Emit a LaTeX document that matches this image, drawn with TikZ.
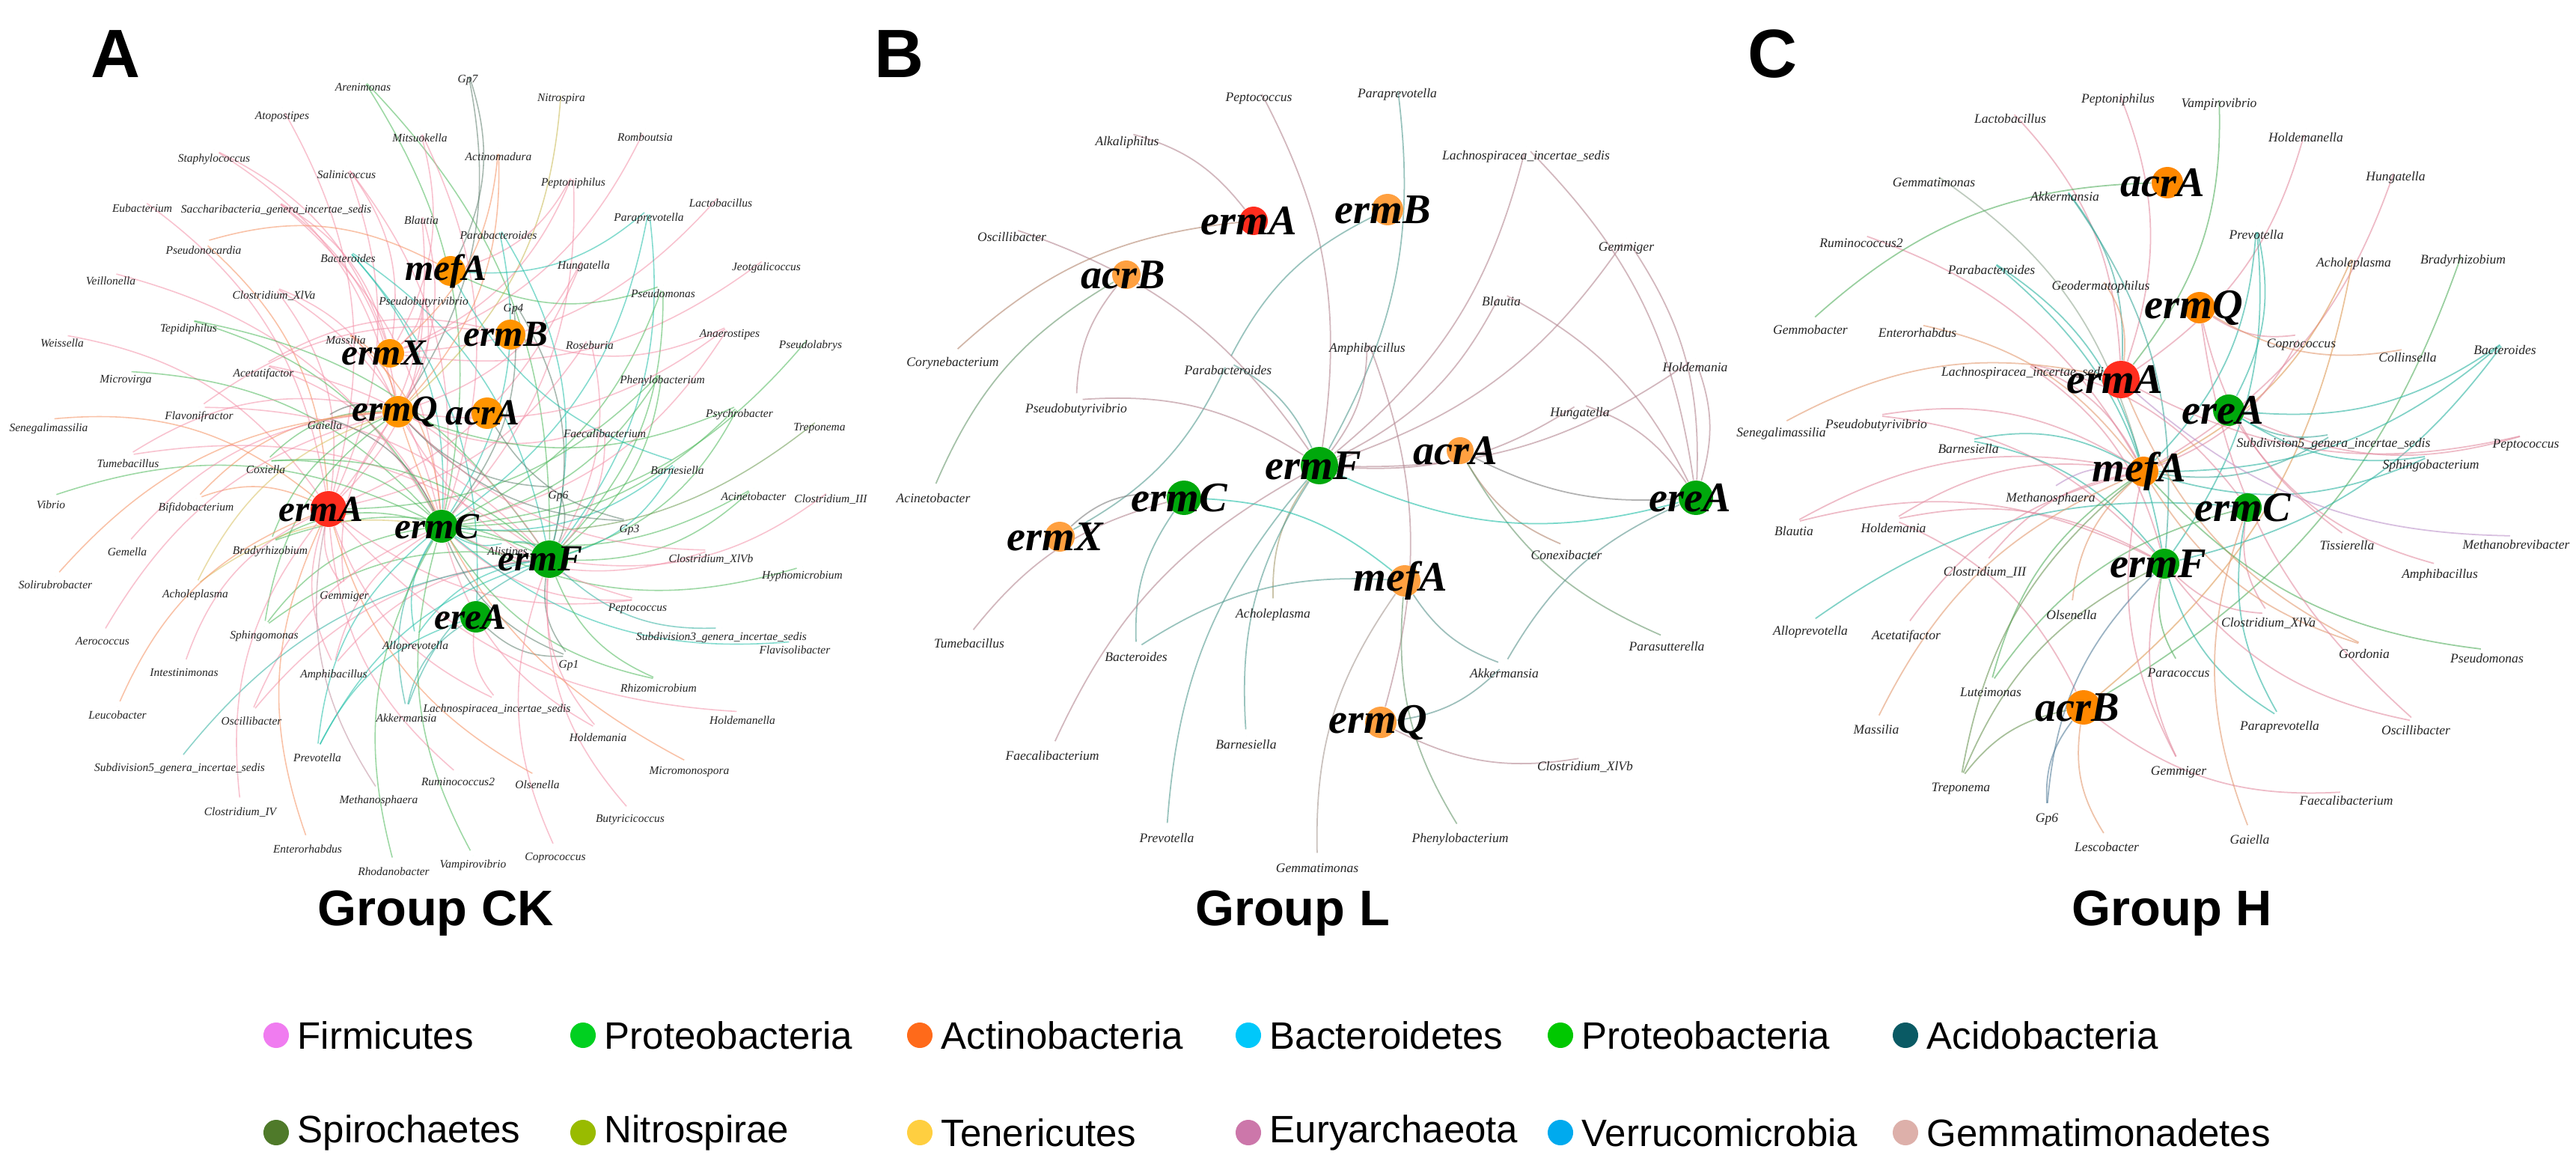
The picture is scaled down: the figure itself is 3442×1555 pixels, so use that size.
\documentclass[tikz,border=0pt]{standalone}
\usepackage{fontspec}
\setmainfont{Liberation Serif}
\newfontfamily\sansf{Liberation Sans}
\definecolor{fi}{HTML}{F07CF0}
\definecolor{pg}{HTML}{00D020}
\definecolor{ac}{HTML}{FF6A1A}
\definecolor{la}{HTML}{FFA060}
\definecolor{or}{HTML}{FF8800}
\definecolor{ba}{HTML}{00C8FA}
\definecolor{ve}{HTML}{0AA0F0}
\definecolor{ad}{HTML}{0A5A64}
\definecolor{adn}{HTML}{1A4A90}
\definecolor{sp}{HTML}{4F7A2A}
\definecolor{ni}{HTML}{99BB00}
\definecolor{te}{HTML}{FFCF40}
\definecolor{eu}{HTML}{CC77AA}
\definecolor{pu}{HTML}{B45AF0}
\definecolor{gm}{HTML}{DDB0AA}
\definecolor{gy}{HTML}{BBBBBB}
\definecolor{bk}{HTML}{000000}
\definecolor{fiE}{HTML}{F490A8}
\definecolor{pgE}{HTML}{4DB85A}
\definecolor{acE}{HTML}{F59060}
\definecolor{laE}{HTML}{F5A070}
\definecolor{orE}{HTML}{F0A050}
\definecolor{baE}{HTML}{20BFA8}
\definecolor{veE}{HTML}{30B0A0}
\definecolor{adE}{HTML}{5F7F6F}
\definecolor{adnE}{HTML}{5080A0}
\definecolor{spE}{HTML}{6A9A50}
\definecolor{niE}{HTML}{C8B850}
\definecolor{teE}{HTML}{D8C060}
\definecolor{euE}{HTML}{C090A0}
\definecolor{puE}{HTML}{C898D8}
\definecolor{gmE}{HTML}{D8B8A8}
\definecolor{gyE}{HTML}{98B098}
\definecolor{bkE}{HTML}{606860}
\definecolor{hubO}{HTML}{FF9400}
\definecolor{hubL}{HTML}{FFA040}
\definecolor{hubR}{HTML}{FF2D1E}
\definecolor{hubG}{HTML}{00A80C}
\definecolor{ver}{HTML}{00AAEE}
\definecolor{pg2}{HTML}{00C800}
\def\nn{x}
% #1 panel, #2 hubs, #3 taxa, #4 dot size, #5 edge colour percentage (rest gray)
\newcommand\panelBase[5]{%
  \foreach \id/\x/\y/\c/\r/\dx in #2
    {\node[dot,minimum size=2*\r*0.01cm] (#1-\id) at (\x,\y) {};}
  \foreach \id/\x/\y/\c/\ha/\hb/\hc in #3
    {\node[dot,minimum size=#4 cm] (#1-\id) at (\x,\y) {};}
  \foreach \id/\x/\y/\c/\ha/\hb/\hc in #3{
    \foreach \k in {\ha,\hb,\hc}{\edef\tmp{\k}\ifx\tmp\nn\else
      \draw[edge#1,draw=\c E!#5!gray] (#1-\id) to (#1-\tmp);\fi}}}
\newcommand\panelTop[4]{%
  \foreach \id/\x/\y/\c/\ha/\hb/\hc in #3{
    \fill[\c] (#1-\id.center) circle (#4/2 cm);
    \node[lbl#1] (#1-\id-t) at (\x,\y+5) {\id};}
  \foreach \id/\x/\y/\c/\r/\dx in #2{
    \fill[\c] (#1-\id.center) circle (\r*0.01cm);
    \node[hubtxt#1] (#1-\id-t) at ([xshift=\dx*0.01cm]#1-\id.center) {\id};}}
\begin{document}
\catcode`\_=12
\def\hubsA{mefA/602/362/hubO/20/-6,ermX/521/472/hubO/19/-8,ermB/682/447/hubO/20/-6,ermQ/532/550/hubO/21/-4,acrA/651/552/hubO/21/-6,ermA/439/680/hubR/24/-10,ermC/590/703/hubG/22/-6,ermF/734/747/hubG/25/-12,ereA/636/824/hubG/21/-8}
\def\taxA{Arenimonas/485/106/pg/ermC/ermF/x,
Atopostipes/377/144/fi/ermA/x/x,
Staphylococcus/286/200/fi/ermX/ermQ/x,
Salinicoccus/463/222/fi/ermX/ermA/ermC,
Eubacterium/190/267/fi/ermA/x/x,
Saccharibacteria_genera_incertae_sedis/369/268/fi/ermX/ermQ/ermC,
Pseudonocardia/272/323/ac/mefA/ermA/x,
Bacteroides/465/334/ba/ermC/ermF/ereA,
Veillonella/148/364/fi/ermC/x/x,
Clostridium_XlVa/366/383/fi/ermQ/ermC/ermA,
Tepidiphilus/252/427/pg/ermC/ermF/x,
Massilia/462/443/ac/ermQ/ermC/x,
Weissella/83/447/fi/ermA/x/x,
Acetatifactor/352/487/fi/ermC/ermF/ermB,
Microvirga/168/496/pg/ermC/x/x,
Gp7/625/95/ad/mefA/ermQ/x,
Nitrospira/750/120/ni/ermQ/x/x,
Mitsuokella/561/173/fi/ermX/ermC/x,
Romboutsia/862/172/fi/ermX/x/x,
Actinomadura/666/198/ac/ermQ/ermX/x,
Peptoniphilus/766/232/fi/ermX/mefA/ermC,
Lactobacillus/963/260/fi/ermX/x/x,
Blautia/563/283/fi/ermQ/ermA/x,
Paraprevotella/867/279/ba/ermC/ermF/mefA,
Parabacteroides/666/303/ba/ermC/ermF/x,
Hungatella/780/343/fi/ermQ/ermA/x,
Jeotgalicoccus/1024/345/fi/ermX/x/x,
Pseudomonas/886/381/pg/ermC/ermF/mefA,
Pseudobutyrivibrio/566/391/fi/ermQ/ermA/ermX,
Gp4/686/401/ad/ermC/ermF/x,
Anaerostipes/975/435/fi/ermQ/ermB/ermC,
Roseburia/788/450/fi/ermA/ermF/x,
Pseudolabrys/1083/449/pg/ermC/x/x,
Phenylobacterium/885/496/pg/ermC/ermF/ermA,
Flavonifractor/266/544/fi/ermF/ermB/x,
Gaiella/434/557/bk/ermQ/ermC/x,
Senegalimassilia/65/560/ac/ermA/x/x,
Tumebacillus/171/608/fi/ermQ/ermF/x,
Coxiella/355/616/pg/ermQ/ermC/ermF,
Vibrio/68/663/pg/ermC/x/x,
Bifidobacterium/262/666/ac/ermQ/ermA/x,
Gemella/170/726/fi/ermQ/x/x,
Bradyrhizobium/361/724/pg/ermC/ermF/ermQ,
Solirubrobacter/74/770/ac/ermQ/x/x,
Acholeplasma/261/782/te/ermQ/ermC/x,
Gemmiger/460/785/fi/ermA/ermQ/x,
Sphingomonas/353/837/pg/ermC/ermF/ermQ,
Aerococcus/137/846/fi/ermQ/x/x,
Alloprevotella/555/851/ba/ermC/ermF/x,
Intestinimonas/246/888/fi/ermA/x/x,
Amphibacillus/446/889/fi/ermA/ermC/ermF,
Leucobacter/157/944/ac/ermA/x/x,
Oscillibacter/336/952/fi/ermC/ermF/x,
Akkermansia/543/948/ve/ermC/ermF/ereA,
Faecalibacterium/808/568/fi/ermQ/ermF/x,
Psychrobacter/988/541/pg/ermC/ermF/ermQ,
Treponema/1095/560/sp/ermC/x/x,
Barnesiella/905/617/ba/ermC/ermF/mefA,
Gp6/746/651/ad/ermQ/ermF/x,
Acinetobacter/1007/652/pg/ermC/ermF/x,
Clostridium_III/1110/655/fi/ermF/x/x,
Gp3/841/696/ad/ermQ/acrA/x,
Alistipes/678/725/ba/ermC/ermF/x,
Clostridium_XlVb/950/735/fi/ermQ/ermC/x,
Hyphomicrobium/1072/757/pg/ermC/x/x,
Peptococcus/852/801/fi/ermQ/ermC/ermA,
Subdivision3_genera_incertae_sedis/964/839/ve/ermF/x/x,
Flavisolibacter/1062/857/ba/ermC/x/x,
Gp1/760/877/ad/ermC/ermF/ereA,
Rhizomicrobium/880/908/pg/ermC/ermF/x,
Lachnospiracea_incertae_sedis/664/935/fi/ermA/ereA/x,
Holdemanella/992/951/fi/ermA/x/x,
Holdemania/799/974/fi/ermF/ermC/x,
Prevotella/424/1001/ba/ermC/ermF/ereA,
Subdivision5_genera_incertae_sedis/240/1014/ve/ermF/x/x,
Micromonospora/921/1019/ac/ermQ/x/x,
Ruminococcus2/612/1034/fi/ermA/x/x,
Olsenella/718/1037/ac/ermA/x/x,
Methanosphaera/506/1057/eu/ermA/x/x,
Clostridium_IV/321/1073/fi/ermA/x/x,
Butyricicoccus/842/1083/fi/ermF/x/x,
Enterorhabdus/411/1123/ac/ermA/x/x,
Coprococcus/742/1134/fi/ermF/x/x,
Vampirovibrio/632/1143/pg/ermC/x/x,
Rhodanobacter/526/1153/pg/ermC/x/x}
\def\hubsB{ermA/1675/295/hubR/19/-6,ermB/1854/280/hubL/21/-6,acrB/1505/367/hubL/19/-4,ermF/1763/622/hubG/25/-8,ermC/1582/665/hubG/23/-6,ermX/1416/717/hubL/20/-6,acrA/1951/602/hubL/18/-6,mefA/1877/776/hubL/21/-6,ermQ/1845/965/hubL/21/-4,ereA/2266/665/hubG/23/-8}
\def\taxB{Peptococcus/1682/118/fi/ermF/x/x,
Paraprevotella/1867/113/ba/ermF/x/x,
Alkaliphilus/1506/177/fi/ermA/x/x,
Lachnospiracea_incertae_sedis/2039/196/fi/ermF/ereA/x,
Oscillibacter/1352/305/fi/ermF/x/x,
Gemmiger/2173/318/fi/ermF/ereA/x,
Blautia/2006/391/fi/ermF/ereA/x,
Amphibacillus/1827/453/fi/ermF/ermQ/x,
Corynebacterium/1273/472/ac/ermA/x/x,
Parabacteroides/1641/483/ba/ermB/ermF/ermX,
Holdemania/2265/479/fi/ermF/ereA/x,
Pseudobutyrivibrio/1438/534/fi/ermF/acrB/x,
Hungatella/2111/539/fi/ermF/ereA/x,
Acinetobacter/1247/654/pg/acrB/x/x,
Conexibacter/2093/730/ac/acrA/x/x,
Acholeplasma/1701/808/te/ermF/x/x,
Tumebacillus/1295/848/fi/ermC/x/x,
Bacteroides/1518/866/ba/ermC/mefA/x,
Parasutterella/2227/852/pg/acrA/x/x,
Akkermansia/2010/888/ve/mefA/ereA/ermQ,
Faecalibacterium/1406/998/fi/ermF/x/x,
Barnesiella/1665/983/ba/ermF/x/x,
Clostridium_XlVb/2118/1012/fi/ermQ/x/x,
Prevotella/1559/1108/ba/ermF/x/x,
Phenylobacterium/1951/1108/pg/mefA/x/x,
Gemmatimonas/1760/1148/gm/mefA/x/x}
\def\hubsC{acrA/2896/244/or/21/-6,ermA/2834/507/hubR/25/-8,ermQ/2939/411/or/21/-8,ereA/2978/548/hubG/21/-8,mefA/2864/630/or/20/-6,ermC/3003/678/hubG/19/-6,ermF/2892/753/hubG/20/-8,acrB/2784/945/or/23/-8}
\def\taxC{Peptoniphilus/2830/120/fi/ermA/x/x,
Lactobacillus/2686/147/fi/ermA/x/x,
Vampirovibrio/2965/126/pg/ermA/x/x,
Holdemanella/3081/172/fi/ermA/x/x,
Hungatella/3201/224/fi/mefA/x/x,
Gemmatimonas/2584/232/gy/mefA/x/x,
Akkermansia/2759/251/ve/ermA/ermF/x,
Ruminococcus2/2487/313/fi/mefA/x/x,
Prevotella/3015/302/ba/ereA/ermF/mefA,
Parabacteroides/2661/349/ba/ermF/mefA/x,
Acholeplasma/3145/339/or/acrB/mefA/x,
Bradyrhizobium/3291/335/pg/acrB/x/x,
Geodermatophilus/2807/370/la/ermA/x/x,
Gemmobacter/2419/429/pg/acrA/x/x,
Enterorhabdus/2562/433/la/mefA/x/x,
Coprococcus/3075/447/fi/ermQ/mefA/x,
Collinsella/3217/466/la/ermQ/x/x,
Bacteroides/3347/456/ba/ereA/ermF/mefA,
Lachnospiracea_incertae_sedis/2706/485/fi/ermF/ermC/mefA,
Subdivision5_genera_incertae_sedis/3118/580/ve/ereA/mefA/x,
Senegalimassilia/2380/566/la/ermA/x/x,
Pseudobutyrivibrio/2507/555/fi/mefA/ermF/x,
Barnesiella/2630/588/ba/ermF/mefA/x,
Sphingobacterium/3248/609/ba/ereA/mefA/x,
Peptococcus/3375/581/fi/ereA/ermA/x,
Methanosphaera/2740/653/pu/mefA/x/x,
Methanobrevibacter/3362/716/pu/ermA/x/x,
Blautia/2397/698/fi/mefA/ermF/x,
Holdemania/2530/694/fi/mefA/ermF/acrB,
Clostridium_III/2652/752/fi/mefA/x/x,
Tissierella/3136/717/fi/ermQ/x/x,
Amphibacillus/3260/755/fi/ereA/x/x,
Olsenella/2768/810/la/mefA/x/x,
Clostridium_XlVa/3031/820/fi/ermC/ermF/x,
Alloprevotella/2419/831/ba/ermC/x/x,
Acetatifactor/2547/836/fi/mefA/x/x,
Gordonia/3159/862/la/ermA/mefA/x,
Pseudomonas/3323/868/pg/mefA/x/x,
Paracoccus/2911/887/pg/ermF/x/x,
Luteimonas/2660/913/pg/mefA/ermC/x,
Paraprevotella/3046/958/ba/ermC/ermF/x,
Oscillibacter/3228/964/fi/ermQ/ermF/x,
Massilia/2507/963/la/mefA/x/x,
Gemmiger/2911/1018/fi/mefA/ermF/x,
Treponema/2620/1040/sp/acrB/ermF/mefA,
Faecalibacterium/3135/1058/fi/acrB/x/x,
Gp6/2735/1081/adn/acrB/ermF/x,
Lescobacter/2815/1120/la/acrB/x/x,
Gaiella/3006/1110/la/ermC/x/x}
\begin{tikzpicture}[x=0.01cm,y=-0.01cm,
  dot/.style={circle,inner sep=0pt,draw=none},
  hubtxtA/.style={font=\bfseries\itshape\fontsize{14}{14}\selectfont,inner sep=0pt},
  hubtxtB/.style={font=\bfseries\itshape\fontsize{16}{16}\selectfont,inner sep=0pt},
  hubtxtC/.style={hubtxtB},
  lblA/.style={font=\itshape\fontsize{4.4}{5}\selectfont,anchor=north,inner sep=0pt,text=black!85},
  lblB/.style={font=\itshape\fontsize{5}{6}\selectfont,anchor=north,inner sep=0pt,text=black!85},
  lblC/.style={lblB},
  edgeA/.style={line width=0.45pt,draw opacity=0.55,bend left=22},
  edgeB/.style={line width=0.5pt,draw opacity=0.6,bend left=18},
  edgeC/.style={line width=0.5pt,draw opacity=0.6,bend left=20},
  letter/.style={font=\sansf\bfseries\fontsize{26}{26}\selectfont},
  title/.style={font=\sansf\bfseries\fontsize{19}{19}\selectfont},
  leg/.style={font=\sansf\fontsize{14.5}{15}\selectfont,anchor=west,inner sep=0pt},
  legdot/.style={circle,inner sep=0pt,minimum size=0.34cm}]
\useasboundingbox (0,0) rectangle (3442,1555);
\fill[white] (0,0) rectangle (3442,1555);
\panelBase{A}{\hubsA}{\taxA}{0.14}{100}
\panelBase{B}{\hubsB}{\taxB}{0.16}{45}
\panelBase{C}{\hubsC}{\taxC}{0.15}{85}
\draw[edgeB,draw=baE] (B-ermC) to (B-mefA);
\draw[edgeB,draw=baE,bend right=20] (B-ermF) to (B-ereA);
\draw[edgeB,draw=gray,bend right=15] (B-acrA) to (B-ereA);
\draw[edgeB,draw=gray,bend left=25] (B-ermX) to (B-ermC);
\panelTop{A}{\hubsA}{\taxA}{0.14}
\panelTop{B}{\hubsB}{\taxB}{0.16}
\panelTop{C}{\hubsC}{\taxC}{0.15}
% ---------- letters and titles
\node[letter] (LA) at (155,72) {A};
\node[letter] (LB) at (1201,72) {B};
\node[letter] (LC) at (2368,72) {C};
\node[title] (TA) at (582,1220) {Group CK};
\node[title] (TB) at (1727,1220) {Group L};
\node[title] (TC) at (2902,1220) {Group H};
% ---------- legend
\foreach \i/\x/\y/\c/\t in {1/369/1383/fi/Firmicutes,2/779/1383/pg/Proteobacteria,3/1229/1383/ac/Actinobacteria,4/1668/1383/ba/Bacteroidetes,5/2085/1383/pg2/Proteobacteria,6/2546/1383/ad/Acidobacteria,7/369/1513/sp/Spirochaetes,8/779/1513/ni/Nitrospirae,9/1229/1513/te/Tenericutes,10/1668/1513/eu/Euryarchaeota,11/2085/1513/ver/Verrucomicrobia,12/2546/1513/gm/Gemmatimonadetes}
{
  \node[legdot,fill=\c] (g\i) at (\x,\y) {};
  \node[leg] (g\i-t) at (\x+28,\y) {\t};
}
\end{tikzpicture}
\end{document}
